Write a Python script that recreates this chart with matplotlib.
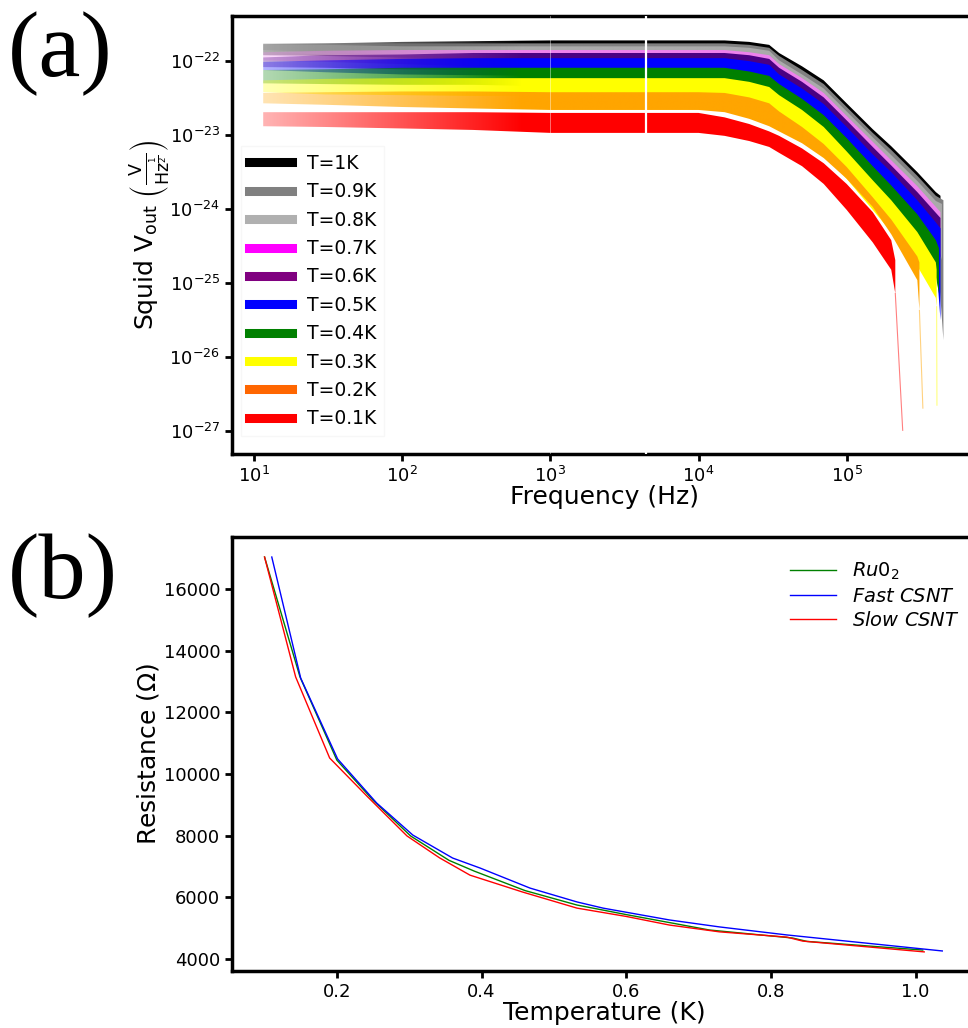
import numpy as np
import matplotlib
matplotlib.use("Agg")
import matplotlib.pyplot as plt
from matplotlib.lines import Line2D
from matplotlib.colors import to_rgb
from matplotlib.ticker import NullLocator

# ---------------- Panel (a) data: noise spectra envelopes (log10 of V/sqrt(Hz)) ----------------
FREQ = [11.5, 30, 100, 300, 1e3, 3e3, 1e4, 1.5e4, 2.2e4, 3e4, 3.5e4, 5e4, 7e4, 1e5, 1.5e5, 2e5, 3e5, 4e5]

hi_10 = [-21.77, -21.76, -21.74, -21.73, -21.72, -21.72, -21.72, -21.72, -21.74, -21.78, -21.89, -22.07, -22.26, -22.57, -22.92, -23.15, -23.50, -23.77]
lo_10 = [-21.92, -21.93, -21.95, -21.96, -21.96, -21.96, -21.96, -21.97, -22.01, -22.07, -22.19, -22.39, -22.61, -22.95, -23.32, -23.58, -23.96, -24.26]
hi_09 = [-21.76, -21.76, -21.76, -21.76, -21.76, -21.76, -21.76, -21.76, -21.78, -21.82, -21.93, -22.12, -22.31, -22.62, -22.97, -23.20, -23.55, -23.82]
lo_09 = [-21.85, -21.88, -21.92, -21.96, -22.00, -22.00, -22.00, -22.01, -22.05, -22.11, -22.23, -22.45, -22.66, -23.00, -23.38, -23.63, -24.01, -24.31]
hi_08 = [-21.78, -21.78, -21.80, -21.80, -21.80, -21.80, -21.80, -21.80, -21.82, -21.86, -21.99, -22.18, -22.37, -22.68, -23.03, -23.27, -23.62, -23.89]
lo_08 = [-21.88, -21.91, -21.95, -21.99, -22.04, -22.04, -22.04, -22.05, -22.09, -22.15, -22.28, -22.50, -22.72, -23.05, -23.43, -23.70, -24.08, -24.38]
hi_07 = [-21.88, -21.86, -21.85, -21.85, -21.85, -21.85, -21.85, -21.85, -21.88, -21.92, -22.04, -22.23, -22.43, -22.74, -23.09, -23.34, -23.69, -23.97]
lo_07 = [-21.99, -22.01, -22.04, -22.07, -22.09, -22.09, -22.09, -22.11, -22.15, -22.20, -22.34, -22.55, -22.78, -23.12, -23.50, -23.77, -24.15, -24.46]
hi_06 = [-21.95, -21.92, -21.91, -21.89, -21.89, -21.89, -21.89, -21.89, -21.92, -21.97, -22.09, -22.28, -22.49, -22.80, -23.16, -23.41, -23.77, -24.05]
lo_06 = [-22.08, -22.09, -22.11, -22.12, -22.14, -22.14, -22.14, -22.15, -22.19, -22.26, -22.39, -22.61, -22.84, -23.18, -23.57, -23.84, -24.23, -24.54]
hi_05 = [-22.01, -21.99, -21.97, -21.96, -21.96, -21.96, -21.96, -21.96, -22.00, -22.05, -22.18, -22.37, -22.58, -22.89, -23.26, -23.50, -23.88, -24.18]
lo_05 = [-22.12, -22.15, -22.18, -22.19, -22.20, -22.20, -22.20, -22.22, -22.27, -22.34, -22.47, -22.69, -22.93, -23.27, -23.66, -23.93, -24.34, -24.66]
hi_04 = [-22.12, -22.11, -22.09, -22.09, -22.09, -22.09, -22.09, -22.09, -22.14, -22.20, -22.31, -22.51, -22.73, -23.04, -23.42, -23.68, -24.07, -24.42]
lo_04 = [-22.30, -22.31, -22.32, -22.32, -22.34, -22.34, -22.34, -22.35, -22.41, -22.49, -22.61, -22.84, -23.08, -23.42, -23.82, -24.11, -24.53, -24.91]
hi_03 = [-22.26, -22.24, -22.23, -22.23, -22.23, -22.23, -22.23, -22.23, -22.28, -22.35, -22.46, -22.66, -22.89, -23.22, -23.61, -23.88, -24.31, -24.72]
lo_03 = [-22.42, -22.45, -22.46, -22.47, -22.47, -22.47, -22.47, -22.49, -22.55, -22.64, -22.76, -22.99, -23.24, -23.59, -24.01, -24.31, -24.77, -25.20]
hi_02 = [-22.43, -22.42, -22.41, -22.41, -22.42, -22.42, -22.42, -22.43, -22.49, -22.57, -22.68, -22.89, -23.12, -23.43, -23.84, -24.14, -24.64]
lo_02 = [-22.57, -22.59, -22.62, -22.64, -22.66, -22.66, -22.66, -22.69, -22.78, -22.88, -22.95, -23.11, -23.31, -23.59, -23.97, -24.34, -24.96]
hi_01 = [-22.69, -22.69, -22.69, -22.69, -22.70, -22.70, -22.70, -22.76, -22.85, -22.95, -23.01, -23.18, -23.38, -23.66, -24.04, -24.42]
lo_01 = [-22.88, -22.89, -22.91, -22.93, -22.97, -22.97, -22.97, -23.01, -23.08, -23.16, -23.24, -23.42, -23.66, -24.01, -24.45, -24.82]

# last measured bin of each spectrum (freq, upper, lower) and faint tail end (freq, value)
end_freq = [4.3e5, 4.5e5, 4.4e5, 4.3e5, 4.3e5, 4.3e5, 4.2e5, 4.05e5, 3.1e5, 2.13e5]
end_hi = [-23.82, -23.88, -23.93, -24.04, -24.12, -24.26, -24.53, -24.82, -24.72, -24.69]
end_lo = [-25.14, -25.77, -24.69, -24.65, -24.65, -25.50, -25.14, -25.32, -25.37, -25.14]
tail_freq = [None, None, None, None, None, None, None, 4.07e5, 3.27e5, 2.39e5]
tail_val = [None, None, None, None, None, None, None, -26.65, -26.69, -26.99]

GAP_FREQ = 4400  # missing bin in all spectra

temps = ["T=1K", "T=0.9K", "T=0.8K", "T=0.7K", "T=0.6K", "T=0.5K", "T=0.4K", "T=0.3K", "T=0.2K", "T=0.1K"]
his = [hi_10, hi_09, hi_08, hi_07, hi_06, hi_05, hi_04, hi_03, hi_02, hi_01]
los = [lo_10, lo_09, lo_08, lo_07, lo_06, lo_05, lo_04, lo_03, lo_02, lo_01]
plot_colors = ["black", "gray", "#aaaaaa", "violet", "indigo", "blue", "green", "yellow", "orange", "red"]
legend_colors = ["black", "gray", "#b0b0b0", "magenta", "purple", "blue", "green", "yellow", "#ff6600", "red"]

# ---------------- Panel (b) data: resistance vs temperature ----------------
T_ru = [0.100, 0.149, 0.200, 0.250, 0.302, 0.355, 0.390, 0.460, 0.532, 0.600, 0.660, 0.715, 0.830, 0.850, 1.010]
R_ru = [17040, 13150, 10450, 9150, 7990, 7200, 6850, 6220, 5750, 5440, 5180, 4940, 4680, 4570, 4290]
T_fast = [0.110, 0.150, 0.201, 0.255, 0.305, 0.360, 0.398, 0.467, 0.532, 0.568, 0.660, 0.729, 0.822, 1.037]
R_fast = [17040, 13110, 10490, 9060, 8020, 7275, 6950, 6300, 5850, 5650, 5265, 5040, 4780, 4260]
T_slow = [0.100, 0.143, 0.190, 0.243, 0.297, 0.342, 0.384, 0.457, 0.532, 0.600, 0.660, 0.729, 0.822, 0.844, 1.012]
R_slow = [17040, 13150, 10520, 9250, 7990, 7280, 6720, 6170, 5650, 5380, 5100, 4880, 4710, 4580, 4230]

# ---------------- Figure ----------------
fig = plt.figure(figsize=(9.68, 10.28), dpi=100)
W, H = 968.0, 1028.0

XLIM_A = (10 ** 0.85, 10 ** 5.88)
YLIM_A = (10 ** -27.31, 10 ** -21.39)

ax = fig.add_axes([232 / W, 1 - 454 / H, (977 - 232) / W, (454 - 16) / H])
ax.set_xscale("log")
ax.set_yscale("log")
ax.set_xlim(*XLIM_A)
ax.set_ylim(*YLIM_A)

# opacity ramp across the axes width (uniform in log f): sparse low-frequency
# bins look like faint thin lines, dense high-frequency bins look solid
lx = np.linspace(np.log10(XLIM_A[0]), np.log10(XLIM_A[1]), 800)
ramp = np.clip(0.3 + 0.7 * (lx - 1.06) / (2.8 - 1.06), 0.3, 1.0)

for i in range(len(temps)):
    f = np.array(FREQ[:len(his[i])] + [end_freq[i]])
    hi = 10 ** np.array(his[i] + [end_hi[i]])
    lo = 10 ** np.array(los[i] + [end_lo[i]])
    c = plot_colors[i]
    z = 2 + i
    poly = ax.fill_between(f, lo, hi, facecolor="none", edgecolor="none", zorder=z)
    rgba = np.zeros((2, lx.size, 4))
    rgba[..., :3] = to_rgb(c)
    rgba[..., 3] = ramp[None, :]
    im = ax.imshow(rgba, extent=(0, 1, 0, 1), transform=ax.transAxes, origin="lower",
                   aspect="auto", interpolation="bilinear", zorder=z)
    im.set_clip_path(poly.get_paths()[0], transform=ax.transData)
    if tail_freq[i] is not None:
        ax.plot([end_freq[i], tail_freq[i]], [10 ** end_lo[i], 10 ** tail_val[i]],
                color=c, lw=0.8, alpha=0.5, zorder=z)
ax.axvline(GAP_FREQ, color="white", lw=1.6, zorder=20)
ax.axvline(1000, color="white", lw=0.5, alpha=0.6, zorder=20)

ax.set_xlim(*XLIM_A)
ax.set_ylim(*YLIM_A)
ax.set_aspect("auto")
ax.set_yticks([1e-27, 1e-26, 1e-25, 1e-24, 1e-23, 1e-22])
ax.set_xticks([1e1, 1e2, 1e3, 1e4, 1e5])
ax.xaxis.set_minor_locator(NullLocator())
ax.yaxis.set_minor_locator(NullLocator())
ax.set_xlabel("Frequency (Hz)", fontsize=18, labelpad=-1)
ax.set_ylabel(r"Squid V$_{\rm out}$ $\left(\frac{\rm V}{\rm Hz^{\frac{1}{2}}}\right)$", fontsize=18, labelpad=-2)

handles = [Line2D([0], [0], color=c, lw=6.5) for c in legend_colors]
leg = ax.legend(handles, temps, loc="lower left", bbox_to_anchor=(0.0, 0.02), fontsize=13.5,
                handlelength=2.3, labelspacing=0.5, framealpha=0.8, edgecolor="0.96",
                fancybox=False, borderpad=0.4)
leg.set_zorder(30)

ax2 = fig.add_axes([232 / W, 1 - 971 / H, (977 - 232) / W, (971 - 537) / H])
ax2.plot(T_ru, R_ru, color="green", lw=1.0, label=r"$Ru0_2$")
ax2.plot(T_fast, R_fast, color="blue", lw=1.0, label=r"$Fast\ CSNT$")
ax2.plot(T_slow, R_slow, color="red", lw=1.0, label=r"$Slow\ CSNT$")
ax2.set_xlim(0.055, 1.085)
ax2.set_ylim(3610, 17690)
ax2.set_xticks([0.2, 0.4, 0.6, 0.8, 1.0])
ax2.set_yticks([4000, 6000, 8000, 10000, 12000, 14000, 16000])
ax2.set_xlabel("Temperature (K)", fontsize=18, labelpad=0)
ax2.set_ylabel(r"Resistance ($\Omega$)", fontsize=18, labelpad=2)
ax2.legend(loc="upper right", bbox_to_anchor=(1.0, 0.985), fontsize=14, frameon=False,
           handlelength=2.4, labelspacing=0.25)

for a in (ax, ax2):
    for s in ("top", "right", "left", "bottom"):
        a.spines[s].set_linewidth(2.5)
    a.tick_params(axis="both", which="major", labelsize=13, length=5, width=2, direction="out")

fig.text(8 / W, 1 - 54 / H, "(a)", fontsize=68, family="Liberation Serif", va="center", ha="left")
fig.text(8 / W, 1 - 576 / H, "(b)", fontsize=68, family="Liberation Serif", va="center", ha="left")

fig.savefig("out.png", dpi=100)
